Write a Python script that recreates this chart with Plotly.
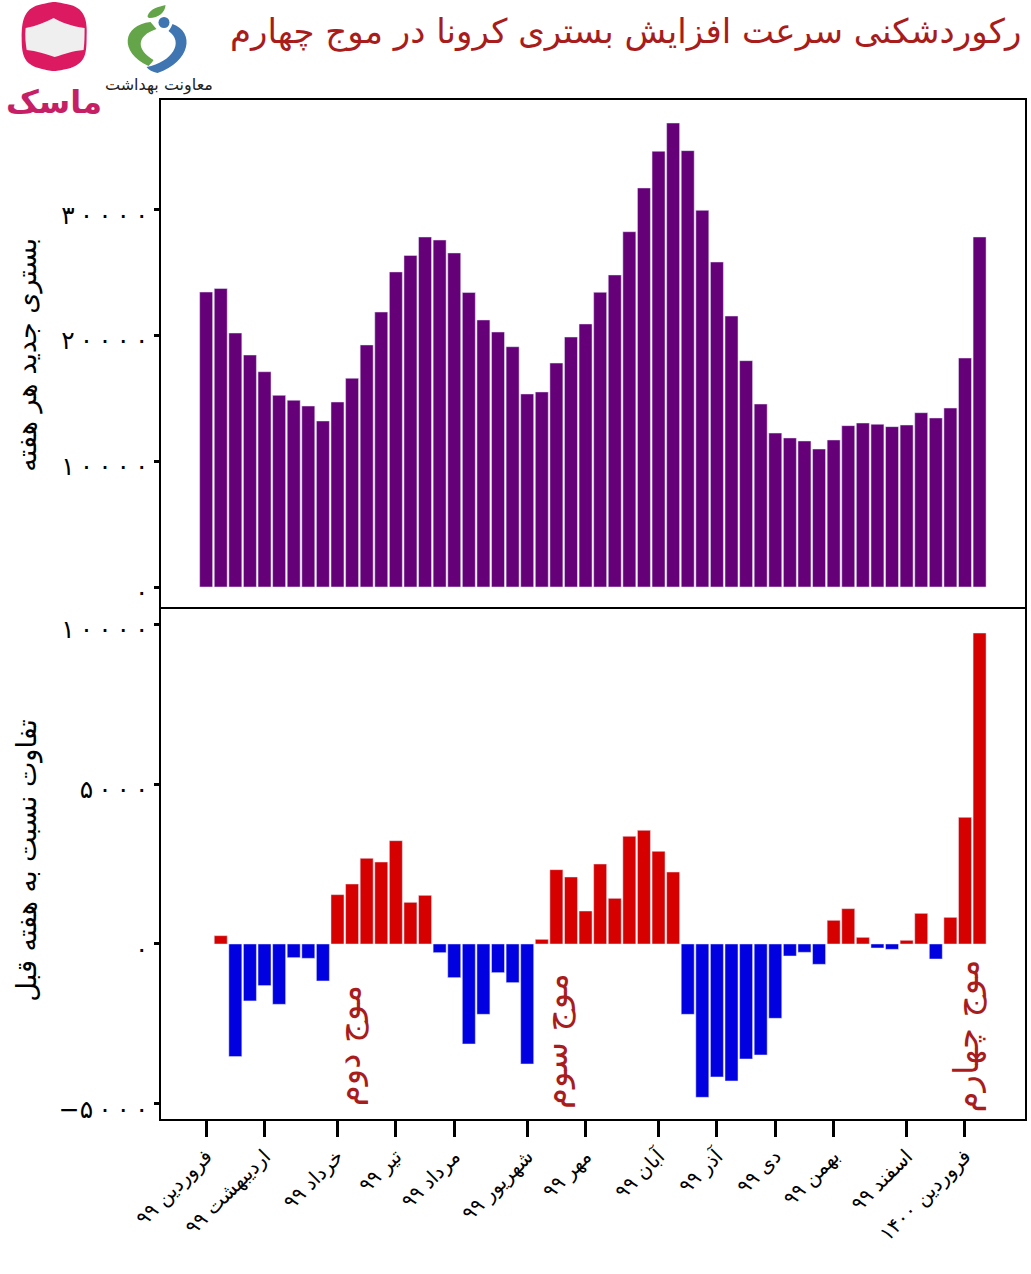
import plotly.graph_objects as go
from plotly.subplots import make_subplots

weeks = list(range(54))
admissions = [23470,23750,20210,18460,17130,15250,14860,14400,13210,14720,16610,19260,21880,25070,26380,27850,27610,26580,23430,21250,20290,19120,15360,15520,17820,19890,20930,23450,24830,28270,31750,34670,36920,34720,29970,25860,21560,18010,14560,12250,11860,11620,10980,11700,12840,13050,12950,12760,12890,13870,13450,14240,18220,27850]
change = [None,260,-3520,-1780,-1300,-1885,-427,-448,-1156,1542,1875,2677,2562,3229,1302,1521,-271,-1052,-3125,-2198,-896,-1208,-3750,146,2323,2094,1031,2500,1427,3365,3552,2896,2250,-2198,-4792,-4156,-4281,-3594,-3469,-2323,-375,-260,-635,740,1104,208,-125,-167,115,958,-469,833,3958,9719]
month_ticks = [0,4,9,13,17,22,26,31,35,39,43,48,52]
month_labels = ["فروردین ۹۹","اردیبهشت ۹۹","خرداد ۹۹","تیر ۹۹","مرداد ۹۹","شهریور ۹۹","مهر ۹۹","آبان ۹۹","آذر ۹۹","دی ۹۹","بهمن ۹۹","اسفند ۹۹","فروردین ۱۴۰۰"]
upper_ticks = [0,10000,20000,30000]
upper_labels = ["۰","۱\u2009۰\u2009۰\u2009۰\u2009۰","۲\u2009۰\u2009۰\u2009۰\u2009۰","۳\u2009۰\u2009۰\u2009۰\u2009۰"]
lower_ticks = [-5000,0,5000,10000]
lower_labels = ["\u2212۵\u2009۰\u2009۰\u2009۰","۰","۵\u2009۰\u2009۰\u2009۰","۱\u2009۰\u2009۰\u2009۰\u2009۰"]
title_text = "رکوردشکنی سرعت افزایش بستری کرونا در موج چهارم"
upper_title = "بستری جدید هر هفته"
lower_title = "تفاوت نسبت به هفته قبل"
PURPLE, RED, BLUE, DARKRED = "#660078", "#d60000", "#0000e0", "#a81c1c"
FONT = "DejaVu Sans"
W, H = 1031, 1274
L, R, T, B = 160.5, 1025.5, 100, 1119

fig = make_subplots(rows=2, cols=1, shared_xaxes=True, vertical_spacing=0)
fig.add_trace(go.Bar(x=weeks, y=admissions, marker_color=PURPLE, width=0.89, showlegend=False), row=1, col=1)
fig.add_trace(go.Bar(x=weeks, y=change, width=0.89, showlegend=False,
                     marker_color=[RED if (v or 0) > 0 else BLUE for v in change]), row=2, col=1)

def px(x): return (x - L) / (R - L)
def py(y): return (B - y) / (B - T)

def curve(*segs):
    a = segs[0]
    s = f"M {px(a[0]):.5f},{py(a[1]):.5f}"
    for q in segs[1:]:
        s += " C " + " ".join(f"{px(q[i]):.5f},{py(q[i+1]):.5f}" for i in (0, 2, 4))
    return s + " Z"

def add_path(d, fill):
    fig.add_shape(type="path", path=d, xref="paper", yref="paper", layer="above", fillcolor=fill, line_width=0)

# logos
add_path(curve((38,5),(55,1,52,1,70,5),(85,9,87,22,86,38),(86,55,84,63,70,68),(54,72,52,72,38,68),(23,64,21,54,21,38),(21,22,23,9,38,5)), "#dc1a62")
add_path(curve((25,28),(36,26,45,22,53,18),(60,22,70,26,84,28),(84,36,84,43,83,50),(72,51,64,54,54,57),(45,54,36,51,26,50),(25,43,24,36,25,28)), "#efefef")
add_path(curve((150,22),(122,25,118,52,148,66),(150,64,152,62,153,60),(136,50,135,36,156,29),(154,27,152,24,150,22)), "#63a548")
add_path(curve((172,24),(195,32,190,62,157,73),(152,72,148,70,146,67),(172,62,184,42,168,31),(170,29,171,26,172,24)), "#3f76b2")
fig.add_shape(type="circle", xref="paper", yref="paper", x0=px(158), x1=px(169), y0=py(28), y1=py(17), fillcolor="#3f76b2", line_width=0)
add_path(curve((147,16),(150,8,158,7,165,5),(165,12,158,18,149,18),(148,18,147,17,147,16)), "#63a548")

fig.add_annotation(text=title_text, x=px(1023), y=py(31), xref="paper", yref="paper", xanchor="right", yanchor="middle",
                   showarrow=False, font=dict(family=FONT, size=34, color=DARKRED))
fig.add_annotation(text="معاونت بهداشت", x=px(158), y=py(85), xref="paper", yref="paper", xanchor="center", yanchor="middle",
                   showarrow=False, font=dict(family=FONT, size=16, color="#222"))
fig.add_annotation(text="<b>ماسک</b>", x=px(53), y=py(102), xref="paper", yref="paper", xanchor="center", yanchor="middle",
                   showarrow=False, font=dict(family=FONT, size=32, color="#c71f66"))
for t, y in ((upper_title, 355), (lower_title, 861)):
    fig.add_annotation(text=t, x=px(26), y=py(y), xref="paper", yref="paper", textangle=-90, xanchor="center", yanchor="middle",
                       showarrow=False, font=dict(family=FONT, size=27, color="black"))
for t, x, y in (("موج دوم", 348, 1046), ("موج سوم", 555, 1041), ("موج چهارم", 966, 1036)):
    fig.add_annotation(text=t, x=px(x), y=py(y), xref="paper", yref="paper", textangle=-90, xanchor="center", yanchor="middle",
                       showarrow=False, font=dict(family=FONT, size=34, color=DARKRED))

split = (B - 609) / (B - T)
fig.update_layout(width=W, height=H, autosize=False, margin=dict(l=L, r=W - R, t=T, b=H - B), paper_bgcolor="white",
                  plot_bgcolor="white", bargap=0.1, font=dict(family=FONT, color="black"))
axis = dict(showgrid=False, zeroline=False, showline=True, linecolor="black", linewidth=1.5)
xr = [(L - 205.7) / 14.61, (R - 205.7) / 14.61]
fig.update_xaxes(range=xr, **axis)
fig.update_xaxes(row=1, col=1, ticks="", showticklabels=False, side="top", mirror=False)
fig.update_xaxes(row=2, col=1, mirror=True, tickmode="array", tickvals=month_ticks, ticktext=month_labels, tickangle=-45, ticks="outside",
                 ticklen=16, tickwidth=3, tickcolor="black", tickfont=dict(size=20, family=FONT))
def low(labels):
    return [f'<span style="font-size:25px">{t}</span>' for t in labels]
ya = dict(tickmode="array", ticks="outside", ticklen=5, tickwidth=3, tickcolor="black", tickfont=dict(size=39, family=FONT), ticklabelstandoff=-2, mirror=True)
fig.update_yaxes(row=1, col=1, domain=[split, 1], range=[-1750, 38750], tickvals=upper_ticks, ticktext=low(upper_labels), **ya, **axis)
fig.update_yaxes(row=2, col=1, domain=[0, split], range=[-5470, 10470], tickvals=lower_ticks, ticktext=low(lower_labels), **ya, **axis)

fig.write_html("out.html", config={"displayModeBar": False}, post_script="document.body.style.margin='0';document.body.style.overflow='hidden';")
